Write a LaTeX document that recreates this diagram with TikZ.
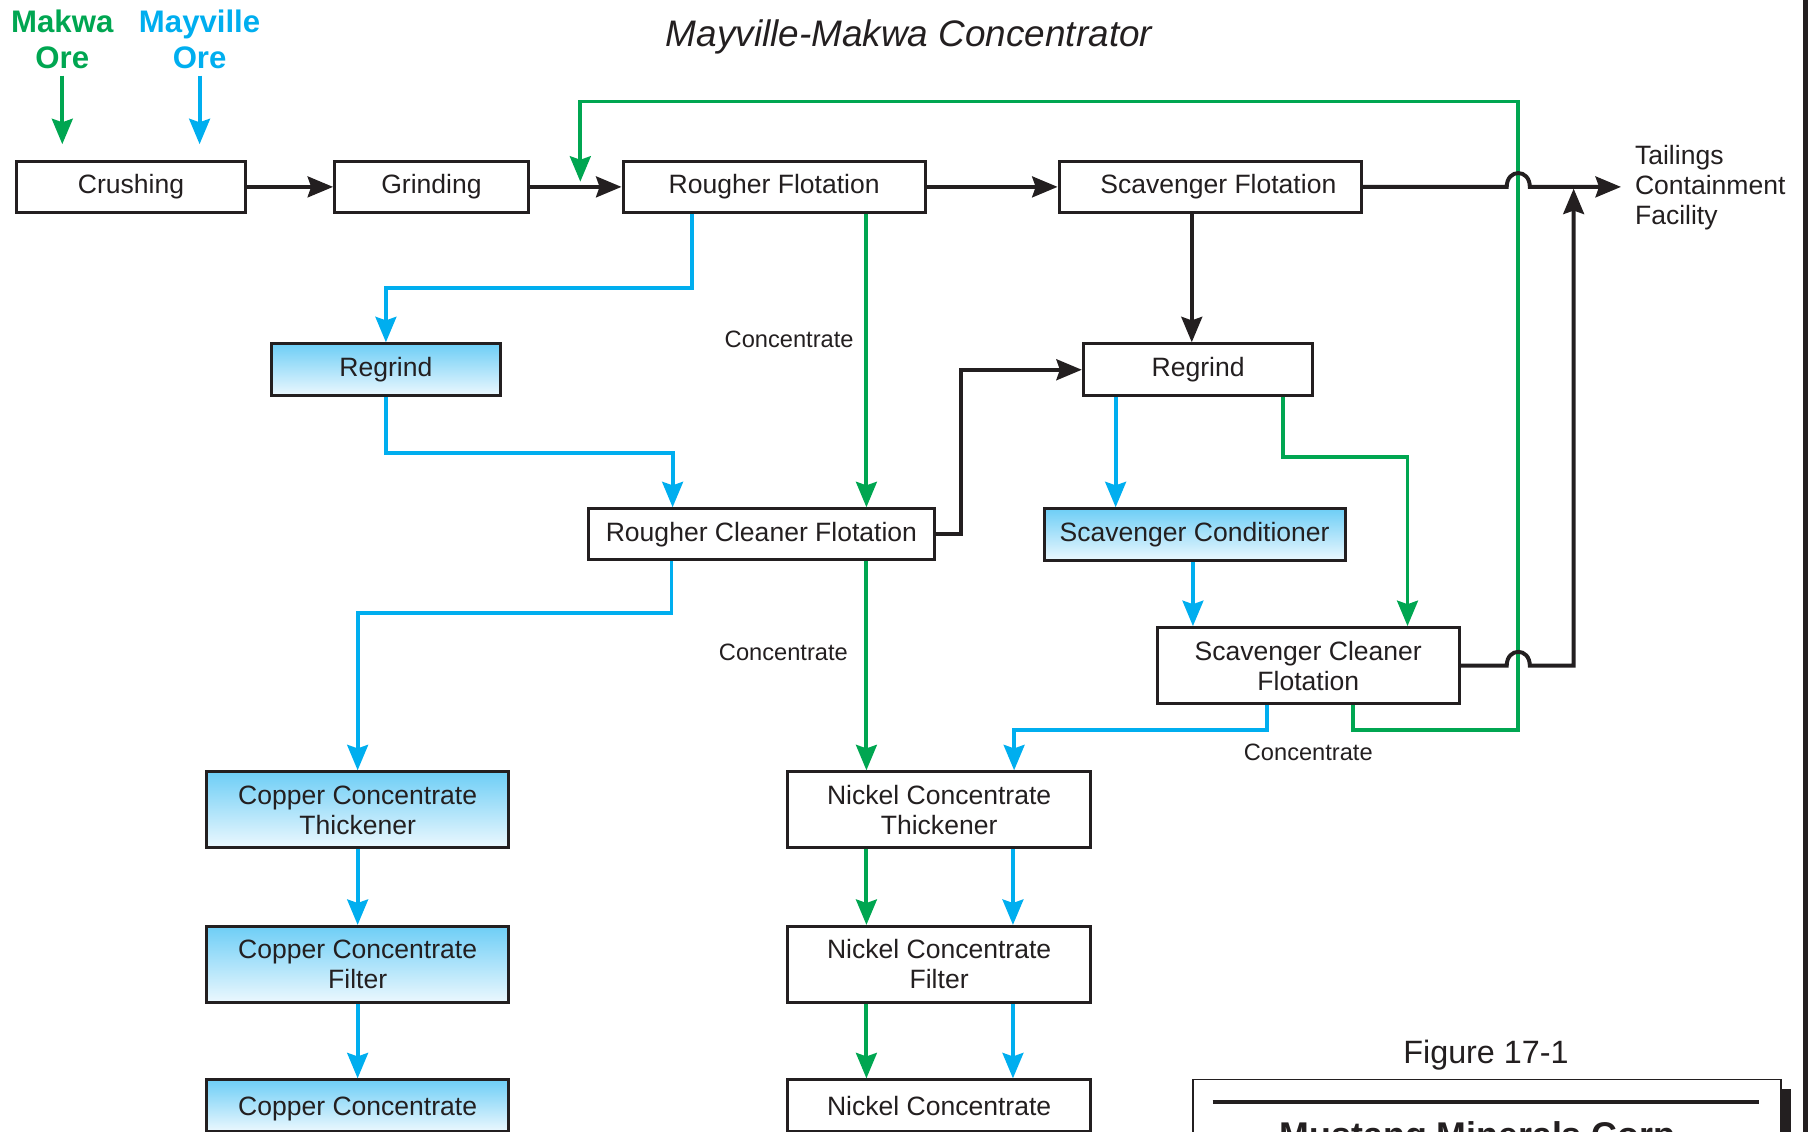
\documentclass[tikz,border=0pt]{standalone}
\usepackage{fontspec}
\setmainfont{Liberation Sans}
\usetikzlibrary{arrows.meta}
\definecolor{ink}{HTML}{231F20}
\definecolor{oregreen}{HTML}{00A651}
\definecolor{oreblue}{HTML}{00AEEF}
\definecolor{shadetop}{RGB}{110,206,246}
\definecolor{shadebot}{RGB}{236,248,254}

\begin{document}
\begin{tikzpicture}[x=1pt,y=-1pt,
  box/.style={draw=ink, line width=2.6pt, fill=white, minimum height=44pt,
    inner sep=0pt, align=center, text=ink, font=\fontsize{23}{26}\selectfont},
  cubox/.style={box, top color=shadetop, bottom color=shadebot},
  wide/.style={minimum width=262pt},
  flowline/.style={line width=3.4pt},
  tip/.style={-{Stealth[length=22pt,width=18pt,inset=3pt]}},
  blk/.style={flowline, tip, draw=ink},
  grn/.style={flowline, tip, draw=oregreen},
  blu/.style={flowline, tip, draw=oreblue},
  orelabel/.style={inner sep=0pt, align=center, font=\fontsize{27}{31}\selectfont\bfseries},
  note/.style={inner sep=0pt, text=ink, font=\fontsize{20.5}{24}\selectfont, anchor=base}
]
\useasboundingbox (0,0) rectangle (1568,981);
\clip (0,0) rectangle (1568,981);

% title
\node[inner sep=0pt, anchor=base, text=ink, font=\fontsize{32}{38}\selectfont\itshape] (title) at (788,40) {Mayville-Makwa Concentrator};

% ore feeds
\node[orelabel, text=oregreen] (makwa) at (54,34) {Makwa\\Ore};
\node[orelabel, text=oreblue] (mayville) at (173,34) {Mayville\\Ore};
\coordinate (mkTip) at (54,125);
\coordinate (mvTip) at (173,125);

% process units
\node[box, minimum width=199pt] (crush) at (113.5,162) {Crushing};
\node[box, minimum width=168pt] (grind) at (374,162) {Grinding};
\node[box, wide] (rough) at (671,162) {Rougher Flotation};
\node[box, wide] (scav) at (1049,162) {\hspace*{14pt}Scavenger Flotation};
\node[cubox, minimum width=199pt, minimum height=45pt] (regA) at (334.5,320.5) {Regrind};
\node[box, minimum width=199pt, minimum height=45pt] (regB) at (1038.5,320.5) {Regrind};
\node[box, minimum width=300pt] (rcf) at (660,463) {Rougher Cleaner Flotation};
\node[cubox, minimum width=261pt, minimum height=45pt] (scond) at (1035.5,463.5) {Scavenger Conditioner};
\node[box, wide, minimum height=66pt] (sclean) at (1134,577) {Scavenger Cleaner\\Flotation};
\node[cubox, wide, minimum height=66pt] (cuthick) at (310,702) {Copper Concentrate\\Thickener};
\node[box, wide, minimum height=66pt] (nithick) at (814,702) {Nickel Concentrate\\Thickener};
\node[cubox, wide, minimum height=66pt] (cufilt) at (310,836) {Copper Concentrate\\Filter};
\node[box, wide, minimum height=66pt] (nifilt) at (814,836) {Nickel Concentrate\\Filter};
\node[cubox, wide, minimum height=45pt, text depth=0pt] (cuconc) at (310,958.5) {Copper Concentrate};
\node[box, wide, minimum height=45pt] (niconc) at (814,958.5) {Nickel Concentrate};

% tailings
\node[anchor=west, align=left, inner sep=0pt, text=ink, font=\fontsize{23}{26}\selectfont] (tail) at (1417,163) {Tailings\\Containment\\Facility};
\coordinate (tailIn) at (1405,162);
\coordinate (tailJoin) at (1364,163.5);

% routing points
\coordinate (j1) at (334.5,250);
\coordinate (j2) at (583,393);
\coordinate (j3) at (833,320.5);
\coordinate (j4) at (1220,396);
\coordinate (j5) at (1364,577);
\coordinate (j6) at (310,531);
\coordinate (j7) at (879,633);
\coordinate (g1) at (1316,633);
\coordinate (g2) at (503,88);
\coordinate (gTip) at (503,157.5);

% feed arrows
\draw[grn] ([yshift=-6pt]makwa.south) -- (mkTip);
\draw[blu] ([yshift=-6pt]mayville.south) -- (mvTip);

% main line
\draw[blk] (crush.east) -- (grind.west);
\draw[blk] (grind.east) -- (rough.west);
\draw[blk] (rough.east) -- (scav.west);

% rougher circuit
\draw[blu] ([xshift=-71pt]rough.south) |- (j1) -- (regA.north);
\draw[grn] ([xshift=80pt]rough.south) -- ([xshift=91pt]rcf.north);
\node[note] (lab1) at (684,301) {Concentrate};
\draw[blu] (regA.south) |- (j2) -- ([xshift=-77pt]rcf.north);
\draw[blk] (rcf.east) -| (j3) -- (regB.west);

% scavenger circuit
\draw[blk] ([xshift=-16pt]scav.south) -- ([xshift=-5.5pt]regB.north);
\draw[blu] ([xshift=-71.5pt]regB.south) -- ([xshift=-68.5pt]scond.north);
\draw[grn] ([xshift=73.5pt]regB.south) |- (j4) -- ([xshift=86pt]sclean.north);
\draw[blu] ([xshift=-1.5pt]scond.south) -- ([xshift=-100pt]sclean.north);

% recycle of scavenger cleaner tails to rougher feed
\draw[grn] ([xshift=39pt]sclean.south) |- (g1) |- (g2) -- (gTip);

% tails to containment, hopping over the recycle line
\draw[blk] (scav.east) -- (1306,162) .. controls (1306,146) and (1326,146) .. (1326,162) -- (tailIn);
\draw[blk] (sclean.east) -- (1306,577) .. controls (1306,561) and (1326,561) .. (1326,577) -- (j5) -- (tailJoin);

% concentrates
\draw[blu] ([xshift=-78pt]rcf.south) |- (j6) -- (cuthick.north);
\draw[grn] ([xshift=91pt]rcf.south) -- ([xshift=-63pt]nithick.north);
\node[note] (lab2) at (679,572.5) {Concentrate};
\draw[blu] ([xshift=-36pt]sclean.south) |- (j7) -- ([xshift=65pt]nithick.north);
\node[note] (lab3) at (1134,659.5) {Concentrate};

% dewatering
\draw[blu] (cuthick.south) -- (cufilt.north);
\draw[blu] (cufilt.south) -- (cuconc.north);
\draw[grn] ([xshift=-63pt]nithick.south) -- ([xshift=-63pt]nifilt.north);
\draw[blu] ([xshift=64pt]nithick.south) -- ([xshift=64pt]nifilt.north);
\draw[grn] ([xshift=-63pt]nifilt.south) -- ([xshift=-63pt]niconc.north);
\draw[blu] ([xshift=64pt]nifilt.south) -- ([xshift=64pt]niconc.north);

% figure number and title block
\node[inner sep=0pt, anchor=base, text=ink, font=\fontsize{28}{32}\selectfont] (fignum) at (1288,921.5) {Figure 17-1};
\fill[ink] (1545,944) rectangle (1552,1000);
\node[draw=ink, line width=1.5pt, fill=white, anchor=north west, minimum width=510pt, minimum height=80pt, inner sep=0pt] (tblock) at (1033,935) {};
\draw[ink, line width=3.5pt] (1051,955) -- (1525,955);
\node[inner sep=0pt, anchor=base, text=ink, font=\fontsize{31}{36}\selectfont\bfseries] (company) at (1285,995) {Mustang Minerals Corp.};

% page edge rule
\draw[ink, line width=4pt] (1565,-5) -- (1565,990);
\end{tikzpicture}
\end{document}
